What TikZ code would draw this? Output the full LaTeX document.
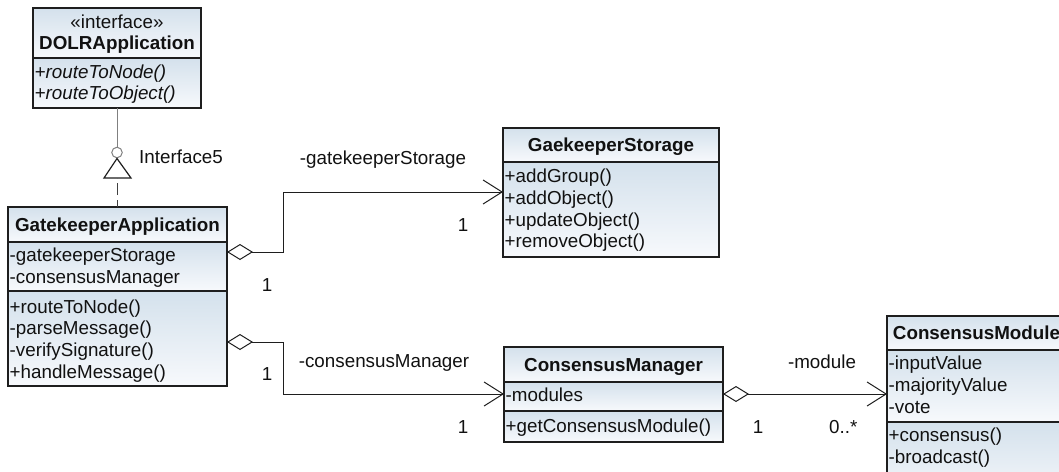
\documentclass[tikz,border=0pt]{standalone}
\usepackage{fontspec}
\setmainfont{Liberation Sans}
\usetikzlibrary{arrows.meta}

\definecolor{umlBlue}{RGB}{212,225,236}
\definecolor{umlPale}{RGB}{247,249,252}
\definecolor{umlLine}{RGB}{30,30,30}
\definecolor{lolliGray}{RGB}{128,128,128}
\definecolor{inkText}{RGB}{17,17,17}

\tikzset{
  % each compartment fades from light blue at its top to near white at its bottom
  comp/.style={draw=umlLine, line width=1.6pt, top color=umlBlue, bottom color=umlPale,
    anchor=north west, inner sep=0pt, outer sep=0pt},
  umlfont/.style={font=\fontsize{18.8}{21.7}\selectfont},
  title/.style={font=\fontsize{18.8}{21.7}\selectfont\bfseries, text=inkText,
    text height=13.5pt, text depth=0pt, inner sep=0pt},
  item/.style={umlfont, text=inkText, text height=13.5pt, text depth=0pt,
    inner sep=0pt, anchor=west},
  lbl/.style={umlfont, text=inkText, text height=13.5pt, text depth=0pt, inner sep=0pt},
  assoc/.style={draw=umlLine, line width=1pt},
  aggr/.style={assoc, {Diamond[open,length=26pt,width=16pt]}-{Straight Barb[length=19pt,width=24pt]}},
}

\begin{document}
\begin{tikzpicture}[x=1pt, y=-1pt]
\useasboundingbox (0,0) rectangle (1059,471);
\clip (0,0) rectangle (1059,471);

% ---- DOLRApplication (interface) ----
\node[comp, minimum width=168pt, minimum height=50pt] (dolrH) at (33,8) {};
\node[comp, minimum width=168pt, minimum height=50pt] (dolrM) at (33,58) {};
\node[lbl] (dolrStereo) at (117,22) {«interface»};
\node[title] (dolrName) at (117,43) {DOLRApplication};
\foreach \t [count=\i] in {+routeToNode(),+routeToObject()}
  \node[item, font=\fontsize{18.8}{21.7}\selectfont\itshape] (dolrM-\i) at (34.5,{72+21*(\i-1)}) {\t};

% ---- GatekeeperApplication ----
\node[comp, minimum width=219pt, minimum height=35pt] (gaH) at (8,207) {};
\node[comp, minimum width=219pt, minimum height=49pt] (gaA) at (8,242) {};
\node[comp, minimum width=219pt, minimum height=95pt] (gaM) at (8,291) {};
\node[title] (gaName) at (gaH.center) {GatekeeperApplication};
\foreach \t [count=\i] in {-gatekeeperStorage,-consensusManager}
  \node[item] (gaA-\i) at (9.5,{255+21.7*(\i-1)}) {\t};
\foreach \t [count=\i] in {+routeToNode(),-parseMessage(),-verifySignature(),+handleMessage()}
  \node[item] (gaM-\i) at (9.5,{306.5+21.7*(\i-1)}) {\t};

% ---- GaekeeperStorage ----
\node[comp, minimum width=216pt, minimum height=34pt] (gsH) at (503,128) {};
\node[comp, minimum width=216pt, minimum height=95pt] (gsM) at (503,162) {};
\node[title] (gsName) at (gsH.center) {GaekeeperStorage};
\foreach \t [count=\i] in {+addGroup(),+addObject(),+updateObject(),+removeObject()}
  \node[item] (gsM-\i) at (504.5,{176+21.7*(\i-1)}) {\t};

% ---- ConsensusManager ----
\node[comp, minimum width=219pt, minimum height=35pt] (cmH) at (504,347) {};
\node[comp, minimum width=219pt, minimum height=29pt] (cmA) at (504,382) {};
\node[comp, minimum width=219pt, minimum height=31pt] (cmM) at (504,411) {};
\node[title] (cmName) at (cmH.center) {ConsensusManager};
\node[item] (cmA-1) at (505.5,395) {-modules};
\node[item] (cmM-1) at (505.5,426) {+getConsensusModule()};

% ---- ConsensusModule ----
\node[comp, minimum width=179pt, minimum height=34pt] (moH) at (887,316) {};
\node[comp, minimum width=179pt, minimum height=72pt] (moA) at (887,350) {};
\node[comp, minimum width=179pt, minimum height=80pt] (moM) at (887,422) {};
\node[title] (moName) at (moH.center) {ConsensusModule};
\foreach \t [count=\i] in {-inputValue,-majorityValue,-vote}
  \node[item] (moA-\i) at (888.5,{363+21.7*(\i-1)}) {\t};
\foreach \t [count=\i] in {+consensus(),-broadcast()}
  \node[item] (moM-\i) at (888.5,{435+21.7*(\i-1)}) {\t};

% ---- interface realization (lollipop + dashed triangle) ----
\node[circle, draw=lolliGray, fill=white, line width=1pt, minimum size=10.5pt, inner sep=0pt] (lolli) at (117,152.5) {};
\draw[lolliGray, line width=1pt] (dolrM.south -| lolli) -- (lolli.north);
\coordinate (triTip) at (117,158.5);
\coordinate (triBase) at (117,178);
\draw[umlLine, line width=1.2pt, fill=white, line join=miter]
  (triTip) -- (triBase -| 104,0) -- (triBase -| 131,0) -- cycle;
\draw[umlLine!85, line width=1pt, dash pattern=on 12pt off 5pt, dash phase=5pt]
  (gaH.north -| triBase) -- (triBase);
\node[lbl, anchor=west] (ifaceLbl) at (139,157) {Interface5};

% ---- aggregations ----
\coordinate (gaOut1) at (gaA.north east |- 0,252);
\coordinate (gsIn) at (gsM.north west |- 0,192);
\draw[aggr] (gaOut1) -- ++(56,0) |- (gsIn);
\node[lbl] (gsRole) at (383,158) {-gatekeeperStorage};
\node[lbl] (gsMultB) at (463,225) {1};
\node[lbl] (gsMultA) at (267,285) {1};

\coordinate (gaOut2) at (gaM.north east |- 0,342);
\coordinate (cmIn) at (cmA.north west |- 0,394);
\draw[aggr] (gaOut2) -- ++(56,0) |- (cmIn);
\node[lbl] (cmRole) at (384,361) {-consensusManager};
\node[lbl] (cmMultA) at (267,374) {1};
\node[lbl] (cmMultB) at (463,427) {1};

\coordinate (cmOut) at (cmA.north east |- 0,394);
\coordinate (moIn) at (moA.north west |- 0,394);
\draw[aggr] (cmOut) -- (moIn);
\node[lbl] (moRole) at (822,362) {-module};
\node[lbl] (moMultA) at (758,427) {1};
\node[lbl, anchor=west] (moMultB) at (829,427) {0..*};
\end{tikzpicture}
\end{document}
